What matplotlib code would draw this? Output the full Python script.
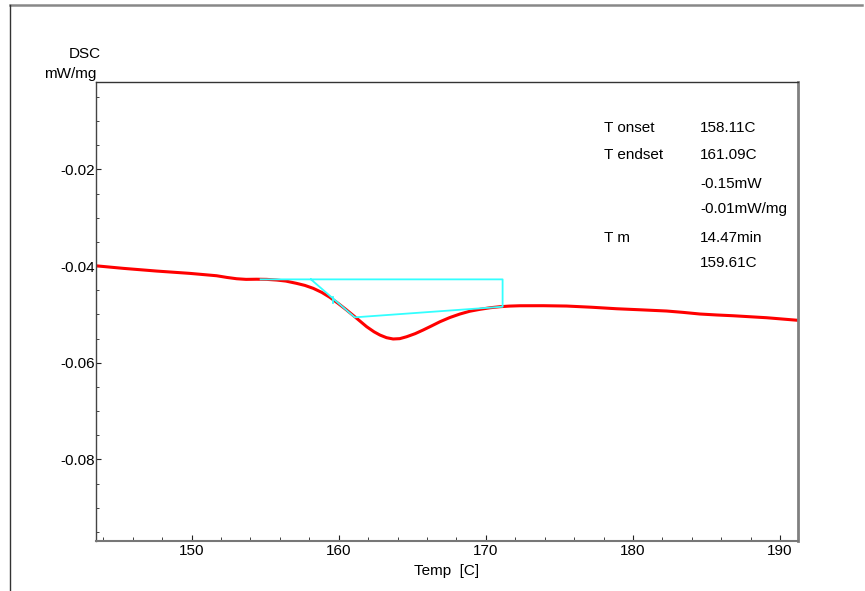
import matplotlib
matplotlib.use('Agg')
from matplotlib import pyplot as plt
from matplotlib.lines import Line2D
from matplotlib.ticker import MultipleLocator

plt.rcParams['font.family'] = ['Liberation Sans', 'DejaVu Sans']

# DSC curve
temp = [143.49, 145.35, 147.62, 149.88, 151.70, 152.40, 153.06, 153.70, 154.42,
        155.10, 155.78, 156.40, 157.14, 157.70, 158.27, 158.85, 159.40, 159.95,
        160.54, 161.22, 161.90, 162.40, 162.80, 163.25, 163.70, 164.15, 164.62,
        165.20, 165.74, 166.30, 166.88, 167.55, 168.24, 168.90, 169.60, 170.30,
        170.96, 171.60, 172.32, 173.90, 175.49, 177.20, 178.89, 180.60, 182.29,
        183.40, 184.55, 185.70, 186.82, 189.09, 191.24]
dsc = [-0.03994, -0.04047, -0.04103, -0.04151, -0.04200, -0.04235, -0.04262,
       -0.04275, -0.04272, -0.04275, -0.04289, -0.04310, -0.04358, -0.04400,
       -0.04461, -0.04545, -0.04647, -0.04770, -0.04910, -0.05081, -0.05255,
       -0.05360, -0.05427, -0.05482, -0.05509, -0.05502, -0.05462, -0.05398,
       -0.05323, -0.05240, -0.05152, -0.05065, -0.04992, -0.04935, -0.04895,
       -0.04862, -0.04841, -0.04828, -0.04821, -0.04820, -0.04827, -0.04852,
       -0.04883, -0.04906, -0.04930, -0.04958, -0.04992, -0.05012, -0.05028,
       -0.05069, -0.05123]

# onset / endset construction lines
constr_t = [154.69, 171.14, 171.14, 161.09, 158.11]
constr_y = [-0.04275, -0.04275, -0.04841, -0.05061, -0.04275]
tm_t = [159.61, 159.61]
tm_y = [-0.04641, -0.04765]

labels = ['T onset', 'T endset', '', '', 'T m', '']
values = ['158.11C', '161.09C', '-0.15mW', '-0.01mW/mg', '14.47min', '159.61C']
baselines = [131.7, 159.3, 188.3, 213.0, 241.7, 266.7]

W, H = 865, 591
fig = plt.figure(figsize=(W / 100, H / 100), dpi=100)
ax = fig.add_axes([96 / W, 1 - 541 / H, (797.7 - 96) / W, (541 - 82) / H])

ax.plot(temp, dsc, color='#ff0000', lw=2.2, solid_joinstyle='round', zorder=2)
ax.plot(constr_t, constr_y, color='#33ffff', lw=1.3, zorder=3)
ax.plot(tm_t, tm_y, color='#33ffff', lw=1.3, zorder=3)

ax.set_xlim(143.5, 191.2)
ax.set_ylim(-0.0969, -0.0019)
ax.xaxis.set_major_locator(MultipleLocator(10))
ax.xaxis.set_minor_locator(MultipleLocator(2))
ax.yaxis.set_major_locator(MultipleLocator(0.02))
ax.yaxis.set_minor_locator(MultipleLocator(0.005))
ax.yaxis.set_major_formatter(lambda v, p: f'{v:.2f}')
ax.tick_params(which='both', direction='in', labelsize=11, color='#222222')
ax.tick_params(axis='x', which='major', length=4.3, pad=2)
ax.tick_params(axis='x', which='minor', length=3)
ax.tick_params(axis='y', which='major', length=3.8, pad=1)
ax.tick_params(axis='y', which='minor', length=2.5)

ax.spines['left'].set_color('#444444')
ax.spines['left'].set_linewidth(1)
ax.spines['top'].set_color('#333333')
ax.spines['top'].set_linewidth(1)
ax.spines['bottom'].set_color('#777777')
ax.spines['bottom'].set_linewidth(1.5)
ax.spines['right'].set_color('#808080')
ax.spines['right'].set_linewidth(2)

fig.text(100.7 / W, 1 - 58.3 / H, 'DSC', ha='right', va='baseline', fontsize=11)
fig.text(96 / W, 1 - 77.7 / H, 'mW/mg', ha='right', va='baseline', fontsize=11)
fig.text(446.5 / W, 1 - 575 / H, 'Temp  [C]', ha='center', va='baseline', fontsize=11)

for lab, val, b in zip(labels, values, baselines):
    if lab:
        fig.text(604 / W, 1 - b / H, lab, ha='left', va='baseline', fontsize=11)
    fig.text(700 / W, 1 - b / H, val, ha='left', va='baseline', fontsize=11)

# outer frame (top and left only)
fig.add_artist(Line2D([10 / W, 862 / W], [1 - 5 / H, 1 - 5 / H],
                      transform=fig.transFigure, color='#888888', lw=1.8))
fig.add_artist(Line2D([10 / W, 10 / W], [1 - 5 / H, 0],
                      transform=fig.transFigure, color='#333333', lw=1))

fig.savefig('out.png', dpi=100)
